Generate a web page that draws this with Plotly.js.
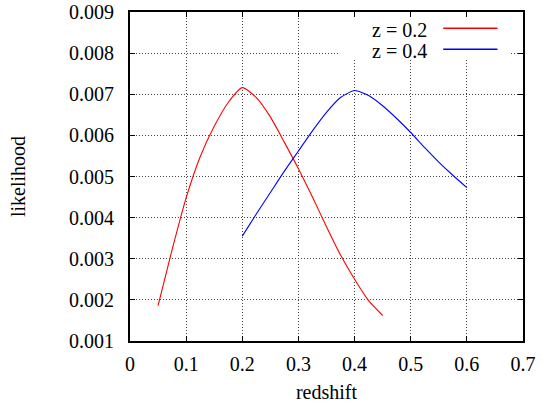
<!DOCTYPE html>
<html>
<head>
<meta charset="utf-8">
<script src="https://cdn.plot.ly/plotly-3.0.1.min.js"></script>
<style>html,body{margin:0;padding:0;background:#fff;}#chart{width:542px;height:405px;}</style>
</head>
<body>
<div id="chart"></div>
<script>
// Redshift grid for each likelihood curve
const redshiftA = [0.05, 0.075, 0.1, 0.125, 0.15, 0.175, 0.2, 0.225, 0.25, 0.275, 0.3, 0.325, 0.35, 0.375, 0.4, 0.425, 0.45];
const likelihoodA = [0.00186, 0.00322, 0.00448, 0.00548, 0.00622, 0.0068, 0.00716, 0.00692, 0.00645, 0.00583, 0.00519, 0.0045, 0.00378, 0.00309, 0.0025, 0.00198, 0.00162];
const redshiftB = [0.2, 0.225, 0.25, 0.275, 0.3, 0.325, 0.35, 0.375, 0.4, 0.425, 0.45, 0.475, 0.5, 0.525, 0.55, 0.575, 0.6];
const likelihoodB = [0.00355, 0.00409, 0.00461, 0.00513, 0.00562, 0.00611, 0.00656, 0.00692, 0.00709, 0.00697, 0.00672, 0.00641, 0.00607, 0.0057, 0.00535, 0.00503, 0.00473];
const seriesNames = ["z = 0.2", "z = 0.4"];
const seriesColors = ["#ff0000", "#0000ff"];

const font = "Liberation Serif, Times New Roman, serif";

const traces = [
  {x: redshiftA, y: likelihoodA, name: seriesNames[0], type: "scatter", mode: "lines",
   line: {color: seriesColors[0], width: 1.1, shape: "spline", smoothing: 0.6}},
  {x: redshiftB, y: likelihoodB, name: seriesNames[1], type: "scatter", mode: "lines",
   line: {color: seriesColors[1], width: 1.1, shape: "spline", smoothing: 0.6}}
];

const axisCommon = {
  showline: true, linecolor: "#000", linewidth: 2, mirror: "ticks",
  ticks: "inside", ticklen: 5, tickwidth: 1, tickcolor: "#000",
  showgrid: true, gridcolor: "#444", gridwidth: 1, griddash: "1px,2px",
  zeroline: false, tickfont: {family: font, size: 20, color: "#000"}
};

const legendY = [0.946, 0.882];
const legendLineY = [0.9505, 0.887];

const layout = {
  width: 542, height: 405,
  margin: {l: 130, r: 19, t: 12, b: 64},
  paper_bgcolor: "#fff", plot_bgcolor: "#fff",
  showlegend: false,
  font: {family: font, size: 20, color: "#000"},
  xaxis: Object.assign({}, axisCommon, {
    range: [0, 0.7], dtick: 0.1, tick0: 0,
    ticklabelstandoff: 4,
    title: {text: "redshift", font: {family: font, size: 20, color: "#000"}, standoff: 11}
  }),
  yaxis: Object.assign({}, axisCommon, {
    range: [0.001, 0.009], dtick: 0.001, tick0: 0.001, tickformat: ".3f",
    ticklabelstandoff: 10,
    title: {text: "likelihood", font: {family: font, size: 20, color: "#000"}, standoff: 38}
  }),
  shapes: [
    {type: "rect", xref: "paper", yref: "paper", x0: 0.5345, x1: 0.966, y0: 0.859, y1: 0.984,
     fillcolor: "#fff", line: {width: 0}, layer: "above"},
    {type: "line", xref: "paper", yref: "paper", x0: 0.797, x1: 0.935, y0: legendLineY[0], y1: legendLineY[0],
     line: {color: seriesColors[0], width: 1.5}},
    {type: "line", xref: "paper", yref: "paper", x0: 0.797, x1: 0.935, y0: legendLineY[1], y1: legendLineY[1],
     line: {color: seriesColors[1], width: 1.5}}
  ],
  annotations: seriesNames.map((n, i) => ({
    text: n, xref: "paper", yref: "paper", x: 0.7606, y: legendY[i],
    xanchor: "right", yanchor: "middle", showarrow: false,
    font: {family: font, size: 20, color: "#000"}
  }))
};

Plotly.newPlot("chart", traces, layout, {displayModeBar: false, staticPlot: true});
</script>
</body>
</html>
